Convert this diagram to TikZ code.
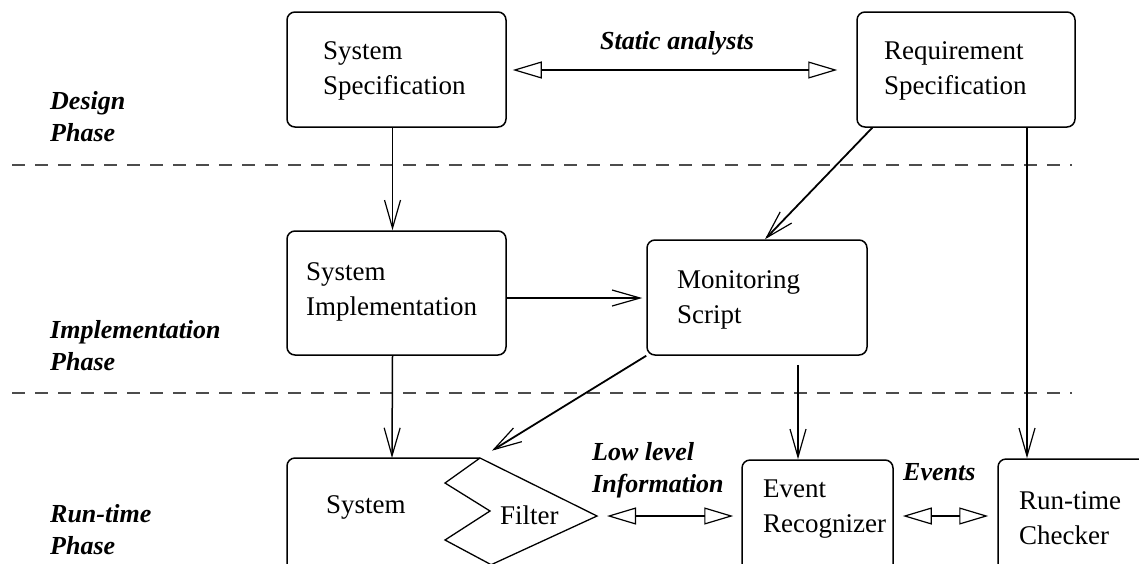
\documentclass[tikz,border=0pt]{standalone}
\usepackage{fontspec}
\setmainfont{Liberation Serif}
\usetikzlibrary{arrows.meta,calc}
\tikzset{
  box/.style={draw, line width=1.5pt, rounded corners=8pt, inner sep=0pt, rectangle},
  boxtext/.style={anchor=west, align=left, inner sep=0pt, font=\fontsize{27}{35}\selectfont},
  lbl/.style={anchor=west, align=left, inner sep=0pt, font=\fontsize{26}{32}\selectfont\bfseries\itshape},
  arr/.style={line width=1.5pt, -{Straight Barb[length=28pt,width=16pt,line width=1.2pt]}},
  darr/.style={line width=1.5pt, {Triangle[open,length=29pt,width=17pt,line width=1.2pt]}-{Triangle[open,length=29pt,width=17pt,line width=1.2pt]}},
  phase/.style={draw=black!70, line width=1.6pt, dash pattern=on 13pt off 10pt}
}
\begin{document}
\begin{tikzpicture}[x=1pt,y=-1pt]
\clip (0,0) rectangle (1139,563);
\fill[white] (0,0) rectangle (1139,563);

% phase separators
\draw[phase] (12,165) -- (1072,165);
\draw[phase] (12,393) -- (1072,393);

% phase labels
\node[lbl] (lD) at (50,117) {Design\\Phase};
\node[lbl] (lI) at (50,346) {Implementation\\Phase};
\node[lbl] (lR) at (50,530) {Run-time\\Phase};

% boxes
\node[box, minimum width=219pt, minimum height=115pt] (ss) at (396.5,69.5) {};
\node[box, minimum width=218pt, minimum height=115pt] (rs) at (966,69.5) {};
\node[box, minimum width=219pt, minimum height=124pt] (si) at (396.5,293) {};
\node[box, minimum width=220pt, minimum height=115pt] (ms) at (757,297.5) {};
\node[box, minimum width=151pt, minimum height=160pt] (er) at (817.5,540) {};
\node[box, minimum width=202pt, minimum height=161pt] (rc) at (1099,539.5) {};

% system box (open to the right, where the filter sits)
\coordinate (ftop) at (480,458);
\coordinate (ftip) at (597,516);
\draw[line width=1.5pt, rounded corners=8pt] (287,640) -- (287,458) -- (ftop);
\draw[line width=1.3pt] (ftop) -- (ftip) -- (484,568);
\draw[line width=1.3pt] (ftop) -- (445,483) -- (490,511) -- (445,540) -- (488,563) -- (500,570);

% box texts
\node[boxtext] (tss) at (323,70.5) {System\\Specification};
\node[boxtext] (trs) at (884,70.5) {Requirement\\Specification};
\node[boxtext] (tsi) at (306,291.5) {System\\Implementation};
\node[boxtext] (tms) at (677,300) {Monitoring\\Script};
\node[boxtext] (ter) at (763,509) {Event\\Recognizer};
\node[boxtext] (trc) at (1019,518) {Run-time\\Checker};
\node[boxtext] (tsy) at (326,507) {System};
\node[boxtext] (tfi) at (500,515) {Filter};

% connector labels
\node[lbl, anchor=center] (lsa) at (677,43) {Static analysts};
\node[lbl] (lll) at (592,470) {Low level\\Information};
\node[lbl] (lev) at (903,472) {Events};

% connectors
\draw[darr, shorten <=6pt, shorten >=19pt] ([yshift=-0.5pt]ss.east) -- ([yshift=-0.5pt]rs.west);
\draw[arr] ([xshift=-4pt]ss.south) -- ([xshift=-4pt]si.north);
\draw[arr, line width=1.8pt] ([xshift=16pt]rs.south west) -- ([xshift=8pt]ms.north);
\draw[arr] ([xshift=61pt]rs.south) -- ([xshift=61pt]rs.south |- rc.north);
\draw[arr, shorten >=4pt] ([yshift=-5pt]si.east) -- ([yshift=-5pt]si.east -| ms.west);
\coordinate (sysin) at (392,458);
\draw[arr] ([xshift=-4pt]si.south) -- (sysin);
\draw[arr, line width=1.8pt, shorten >=14pt] (ms.south west) -- (ftop);
\draw[arr, shorten <=9pt] ([xshift=41pt]ms.south) -- ([xshift=41pt]ms.south |- er.north);
\draw[darr, shorten <=10pt, shorten >=8pt] (ftip) -- (ftip -| er.west);
\draw[darr, shorten <=9pt, shorten >=9pt] (ftip -| er.east) -- (ftip -| rc.west);
\end{tikzpicture}
\end{document}
